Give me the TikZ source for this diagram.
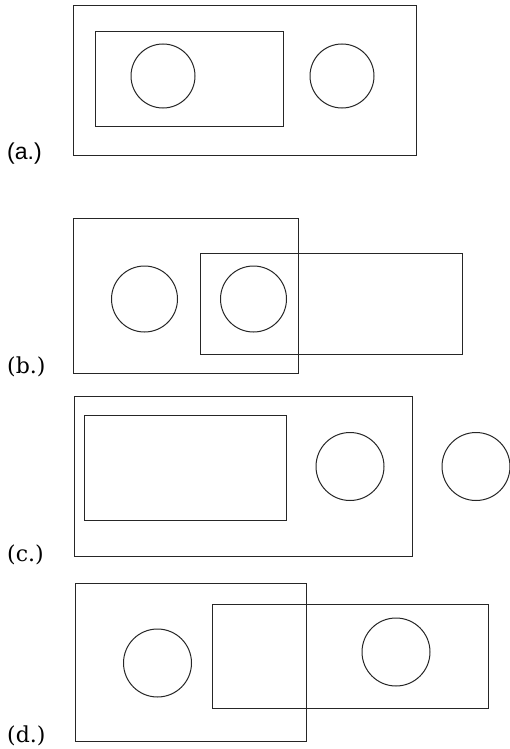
\documentclass[tikz,border=0pt]{standalone}
\usepackage{fontspec}
\newfontfamily\labsans{Liberation Sans}
\newfontfamily\labserif{DejaVu Serif}
\begin{document}
\begin{tikzpicture}[x=1pt,y=-1pt,
  outl/.style={draw=black!85,line width=1pt},
  lab/.style={anchor=base west,inner sep=0pt,font=\labserif\fontsize{22}{26}\selectfont},
  labs/.style={anchor=base west,inner sep=0pt,font=\labsans\fontsize{23}{27}\selectfont}]
\useasboundingbox[fill=white] (0,0) rectangle (510,749);
% (a)
\draw[outl] (73,6) rectangle (416,155);
\draw[outl] (95,32) rectangle (283,127);
\draw[outl] (163,76) circle (32);
\draw[outl] (342,76) circle (32);
\node[labs] (la) at (7,159) {(a.)};
% (b)
\draw[outl] (73,218) rectangle (298,373);
\draw[outl] (200,253) rectangle (462,354);
\draw[outl] (144.5,299) circle (33);
\draw[outl] (253.5,299) circle (33);
\node[lab] (lb) at (7,373) {(b.)};
% (c)
\draw[outl] (74,396) rectangle (412,556);
\draw[outl] (84,415) rectangle (286,520);
\draw[outl] (350,466.5) circle (34);
\draw[outl] (476,466.5) circle (34);
\node[lab] (lc) at (7,561) {(c.)};
% (d)
\draw[outl] (75,583) rectangle (306,741);
\draw[outl] (212,604) rectangle (488,708);
\draw[outl] (157.5,663) circle (34);
\draw[outl] (396,652) circle (34);
\node[lab] (ld) at (7,742) {(d.)};
\end{tikzpicture}
\end{document}
